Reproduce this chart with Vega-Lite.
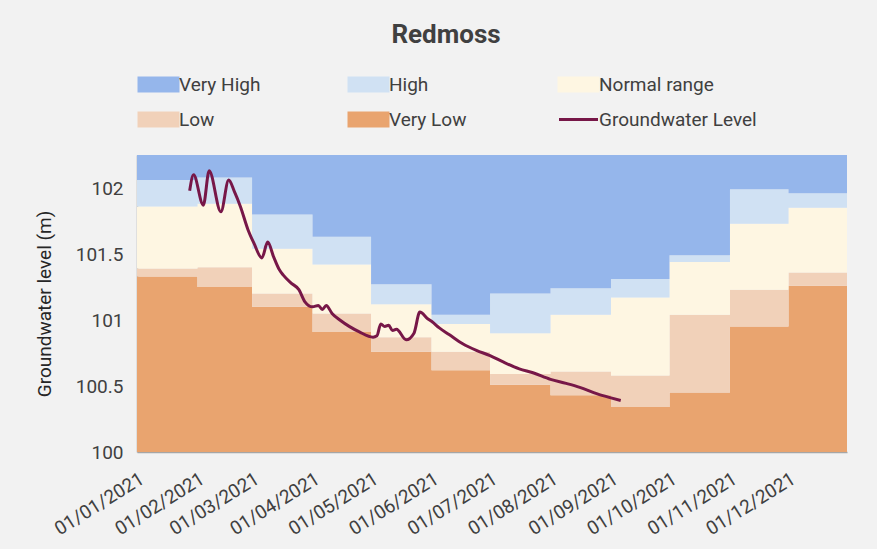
{
  "$schema": "https://vega.github.io/schema/vega-lite/v6.json",
  "width": 710,
  "height": 297,
  "autosize": {"type": "none"},
  "padding": {"left": 137, "top": 155, "right": 30, "bottom": 97},
  "background": "#f2f2f2",
  "title": {"text": "Redmoss", "anchor": "middle", "dx": -46, "offset": 25, "fontSize": 26, "fontWeight": "bold", "font": "Roboto", "color": "#404040"},
  "config": {"view": {"stroke": null}, "font": "Roboto"},
  "datasets": {
    "bands": [
      {"d": "2021-01-01", "band": "Very Low", "lo": 100, "hi": 101.33},
      {"d": "2021-01-01", "band": "Low", "lo": 101.33, "hi": 101.39},
      {"d": "2021-01-01", "band": "Normal range", "lo": 101.39, "hi": 101.86},
      {"d": "2021-01-01", "band": "High", "lo": 101.86, "hi": 102.06},
      {"d": "2021-01-01", "band": "Very High", "lo": 102.06, "hi": 102.25},
      {"d": "2021-02-01", "band": "Very Low", "lo": 100, "hi": 101.25},
      {"d": "2021-02-01", "band": "Low", "lo": 101.25, "hi": 101.40},
      {"d": "2021-02-01", "band": "Normal range", "lo": 101.40, "hi": 101.88},
      {"d": "2021-02-01", "band": "High", "lo": 101.88, "hi": 102.08},
      {"d": "2021-02-01", "band": "Very High", "lo": 102.08, "hi": 102.25},
      {"d": "2021-03-01", "band": "Very Low", "lo": 100, "hi": 101.10},
      {"d": "2021-03-01", "band": "Low", "lo": 101.10, "hi": 101.20},
      {"d": "2021-03-01", "band": "Normal range", "lo": 101.20, "hi": 101.54},
      {"d": "2021-03-01", "band": "High", "lo": 101.54, "hi": 101.80},
      {"d": "2021-03-01", "band": "Very High", "lo": 101.80, "hi": 102.25},
      {"d": "2021-04-01", "band": "Very Low", "lo": 100, "hi": 100.91},
      {"d": "2021-04-01", "band": "Low", "lo": 100.91, "hi": 101.05},
      {"d": "2021-04-01", "band": "Normal range", "lo": 101.05, "hi": 101.42},
      {"d": "2021-04-01", "band": "High", "lo": 101.42, "hi": 101.63},
      {"d": "2021-04-01", "band": "Very High", "lo": 101.63, "hi": 102.25},
      {"d": "2021-05-01", "band": "Very Low", "lo": 100, "hi": 100.76},
      {"d": "2021-05-01", "band": "Low", "lo": 100.76, "hi": 100.87},
      {"d": "2021-05-01", "band": "Normal range", "lo": 100.87, "hi": 101.12},
      {"d": "2021-05-01", "band": "High", "lo": 101.12, "hi": 101.27},
      {"d": "2021-05-01", "band": "Very High", "lo": 101.27, "hi": 102.25},
      {"d": "2021-06-01", "band": "Very Low", "lo": 100, "hi": 100.62},
      {"d": "2021-06-01", "band": "Low", "lo": 100.62, "hi": 100.76},
      {"d": "2021-06-01", "band": "Normal range", "lo": 100.76, "hi": 100.97},
      {"d": "2021-06-01", "band": "High", "lo": 100.97, "hi": 101.04},
      {"d": "2021-06-01", "band": "Very High", "lo": 101.04, "hi": 102.25},
      {"d": "2021-07-01", "band": "Very Low", "lo": 100, "hi": 100.51},
      {"d": "2021-07-01", "band": "Low", "lo": 100.51, "hi": 100.59},
      {"d": "2021-07-01", "band": "Normal range", "lo": 100.59, "hi": 100.90},
      {"d": "2021-07-01", "band": "High", "lo": 100.90, "hi": 101.20},
      {"d": "2021-07-01", "band": "Very High", "lo": 101.20, "hi": 102.25},
      {"d": "2021-08-01", "band": "Very Low", "lo": 100, "hi": 100.43},
      {"d": "2021-08-01", "band": "Low", "lo": 100.43, "hi": 100.61},
      {"d": "2021-08-01", "band": "Normal range", "lo": 100.61, "hi": 101.04},
      {"d": "2021-08-01", "band": "High", "lo": 101.04, "hi": 101.24},
      {"d": "2021-08-01", "band": "Very High", "lo": 101.24, "hi": 102.25},
      {"d": "2021-09-01", "band": "Very Low", "lo": 100, "hi": 100.34},
      {"d": "2021-09-01", "band": "Low", "lo": 100.34, "hi": 100.58},
      {"d": "2021-09-01", "band": "Normal range", "lo": 100.58, "hi": 101.17},
      {"d": "2021-09-01", "band": "High", "lo": 101.17, "hi": 101.31},
      {"d": "2021-09-01", "band": "Very High", "lo": 101.31, "hi": 102.25},
      {"d": "2021-10-01", "band": "Very Low", "lo": 100, "hi": 100.45},
      {"d": "2021-10-01", "band": "Low", "lo": 100.45, "hi": 101.04},
      {"d": "2021-10-01", "band": "Normal range", "lo": 101.04, "hi": 101.44},
      {"d": "2021-10-01", "band": "High", "lo": 101.44, "hi": 101.49},
      {"d": "2021-10-01", "band": "Very High", "lo": 101.49, "hi": 102.25},
      {"d": "2021-11-01", "band": "Very Low", "lo": 100, "hi": 100.95},
      {"d": "2021-11-01", "band": "Low", "lo": 100.95, "hi": 101.23},
      {"d": "2021-11-01", "band": "Normal range", "lo": 101.23, "hi": 101.73},
      {"d": "2021-11-01", "band": "High", "lo": 101.73, "hi": 101.99},
      {"d": "2021-11-01", "band": "Very High", "lo": 101.99, "hi": 102.25},
      {"d": "2021-12-01", "band": "Very Low", "lo": 100, "hi": 101.26},
      {"d": "2021-12-01", "band": "Low", "lo": 101.26, "hi": 101.36},
      {"d": "2021-12-01", "band": "Normal range", "lo": 101.36, "hi": 101.85},
      {"d": "2021-12-01", "band": "High", "lo": 101.85, "hi": 101.96},
      {"d": "2021-12-01", "band": "Very High", "lo": 101.96, "hi": 102.25},
      {"d": "2021-12-31", "band": "Very Low", "lo": 100, "hi": 101.26},
      {"d": "2021-12-31", "band": "Low", "lo": 101.26, "hi": 101.36},
      {"d": "2021-12-31", "band": "Normal range", "lo": 101.36, "hi": 101.85},
      {"d": "2021-12-31", "band": "High", "lo": 101.85, "hi": 101.96},
      {"d": "2021-12-31", "band": "Very High", "lo": 101.96, "hi": 102.25}
    ],
    "level": [
      {"d": "2021-01-28", "v": 101.98},
      {"d": "2021-01-30", "v": 102.10},
      {"d": "2021-02-04", "v": 101.87},
      {"d": "2021-02-07", "v": 102.13},
      {"d": "2021-02-13", "v": 101.82},
      {"d": "2021-02-17", "v": 102.06},
      {"d": "2021-02-20", "v": 101.97},
      {"d": "2021-02-23", "v": 101.86},
      {"d": "2021-02-27", "v": 101.68},
      {"d": "2021-03-02", "v": 101.58},
      {"d": "2021-03-06", "v": 101.47},
      {"d": "2021-03-09", "v": 101.59},
      {"d": "2021-03-12", "v": 101.48},
      {"d": "2021-03-15", "v": 101.38},
      {"d": "2021-03-17", "v": 101.34},
      {"d": "2021-03-21", "v": 101.28},
      {"d": "2021-03-25", "v": 101.23},
      {"d": "2021-03-28", "v": 101.14},
      {"d": "2021-04-01", "v": 101.10},
      {"d": "2021-04-04", "v": 101.11},
      {"d": "2021-04-06", "v": 101.08},
      {"d": "2021-04-08", "v": 101.11},
      {"d": "2021-04-11", "v": 101.05},
      {"d": "2021-04-15", "v": 101.00},
      {"d": "2021-04-20", "v": 100.95},
      {"d": "2021-04-25", "v": 100.91},
      {"d": "2021-05-02", "v": 100.87},
      {"d": "2021-05-04", "v": 100.88},
      {"d": "2021-05-06", "v": 100.97},
      {"d": "2021-05-08", "v": 100.95},
      {"d": "2021-05-10", "v": 100.96},
      {"d": "2021-05-12", "v": 100.92},
      {"d": "2021-05-14", "v": 100.93},
      {"d": "2021-05-19", "v": 100.85},
      {"d": "2021-05-23", "v": 100.90},
      {"d": "2021-05-26", "v": 101.06},
      {"d": "2021-05-30", "v": 101.01},
      {"d": "2021-06-01", "v": 100.99},
      {"d": "2021-06-05", "v": 100.94},
      {"d": "2021-06-10", "v": 100.89},
      {"d": "2021-06-17", "v": 100.82},
      {"d": "2021-06-24", "v": 100.77},
      {"d": "2021-07-01", "v": 100.73},
      {"d": "2021-07-08", "v": 100.68},
      {"d": "2021-07-16", "v": 100.63},
      {"d": "2021-07-23", "v": 100.60},
      {"d": "2021-08-01", "v": 100.55},
      {"d": "2021-08-09", "v": 100.52},
      {"d": "2021-08-16", "v": 100.49},
      {"d": "2021-08-25", "v": 100.44},
      {"d": "2021-09-01", "v": 100.41},
      {"d": "2021-09-06", "v": 100.39}
    ]
  },
  "encoding": {
    "x": {
      "field": "d", "type": "temporal",
      "scale": {"type": "utc", "domain": ["2021-01-01", "2021-12-31"]},
      "axis": {
        "title": null, "format": "%d/%m/%Y",
        "values": [
          {"year": 2021, "month": 1, "date": 1, "utc": true},
          {"year": 2021, "month": 2, "date": 1, "utc": true},
          {"year": 2021, "month": 3, "date": 1, "utc": true},
          {"year": 2021, "month": 4, "date": 1, "utc": true},
          {"year": 2021, "month": 5, "date": 1, "utc": true},
          {"year": 2021, "month": 6, "date": 1, "utc": true},
          {"year": 2021, "month": 7, "date": 1, "utc": true},
          {"year": 2021, "month": 8, "date": 1, "utc": true},
          {"year": 2021, "month": 9, "date": 1, "utc": true},
          {"year": 2021, "month": 10, "date": 1, "utc": true},
          {"year": 2021, "month": 11, "date": 1, "utc": true},
          {"year": 2021, "month": 12, "date": 1, "utc": true}
        ],
        "labelOverlap": false,
        "labelAngle": -32, "labelFontSize": 19, "labelColor": "#404040", "labelFont": "Roboto",
        "labelAlign": "right", "labelBaseline": "top",
        "ticks": false, "domainColor": "#a6a6a6", "domainWidth": 1.5, "grid": false, "labelPadding": 17
      }
    }
  },
  "layer": [
    {
      "data": {"name": "bands"},
      "mark": {"type": "area", "interpolate": "step-after", "opacity": 1},
      "encoding": {
        "y": {
          "field": "lo", "type": "quantitative", "stack": null,
          "scale": {"domain": [100, 102.25], "nice": false, "zero": false},
          "axis": {
            "title": "Groundwater level (m)", "values": [100, 100.5, 101, 101.5, 102], "format": "~g",
            "labelFontSize": 19, "labelColor": "#404040", "labelFont": "Roboto", "labelPadding": 14,
            "titleFontSize": 19, "titleFontWeight": "normal", "titleColor": "#262626", "titleFont": "Roboto", "titlePadding": 21,
            "ticks": false, "domainColor": "#a6a6a6", "domainWidth": 1.5, "grid": false
          }
        },
        "y2": {"field": "hi"},
        "color": {
          "field": "band", "type": "nominal",
          "scale": {
            "domain": ["Very High", "High", "Normal range", "Low", "Very Low", "Groundwater Level"],
            "range": ["#95b6eb", "#d0e1f3", "#fef6e2", "#f1d1b9", "#e9a46f", "#771748"]
          },
          "legend": {
            "title": null, "orient": "none", "legendX": 10, "legendY": -82,
            "direction": "horizontal", "columns": 3, "gridAlign": "all",
            "columnPadding": 6, "rowPadding": 10,
            "labelFontSize": 19, "labelColor": "#404040", "labelFont": "Roboto",
            "symbolSize": 400, "symbolOffset": 0, "labelOffset": 9,
            "encode": {
              "symbols": {
                "update": {
                  "shape": {"signal": "datum.value === 'Groundwater Level' ? 'M-1.95,0H1.95' : 'M-1.95,-0.65H1.95V0.65H-1.95Z'"},
                  "fill": {"signal": "datum.value === 'Groundwater Level' ? 'transparent' : scale('color', datum.value)"},
                  "stroke": {"signal": "datum.value === 'Groundwater Level' ? scale('color', datum.value) : 'transparent'"},
                  "strokeWidth": {"value": 3},
                  "opacity": {"value": 1}
                }
              }
            }
          }
        }
      }
    },
    {
      "data": {"name": "level"},
      "mark": {"type": "line", "interpolate": "monotone", "strokeWidth": 3},
      "encoding": {
        "y": {"field": "v", "type": "quantitative"},
        "color": {
          "datum": "Groundwater Level",
          "legend": {
            "title": null, "orient": "none", "legendX": 10, "legendY": -82,
            "direction": "horizontal", "columns": 3, "gridAlign": "all",
            "columnPadding": 6, "rowPadding": 10,
            "labelFontSize": 19, "labelColor": "#404040", "labelFont": "Roboto",
            "symbolSize": 400, "symbolOffset": 0, "labelOffset": 9,
            "encode": {
              "symbols": {
                "update": {
                  "shape": {"signal": "datum.value === 'Groundwater Level' ? 'M-1.95,0H1.95' : 'M-1.95,-0.65H1.95V0.65H-1.95Z'"},
                  "fill": {"signal": "datum.value === 'Groundwater Level' ? 'transparent' : scale('color', datum.value)"},
                  "stroke": {"signal": "datum.value === 'Groundwater Level' ? scale('color', datum.value) : 'transparent'"},
                  "strokeWidth": {"value": 3},
                  "opacity": {"value": 1}
                }
              }
            }
          }
        }
      }
    }
  ]
}
